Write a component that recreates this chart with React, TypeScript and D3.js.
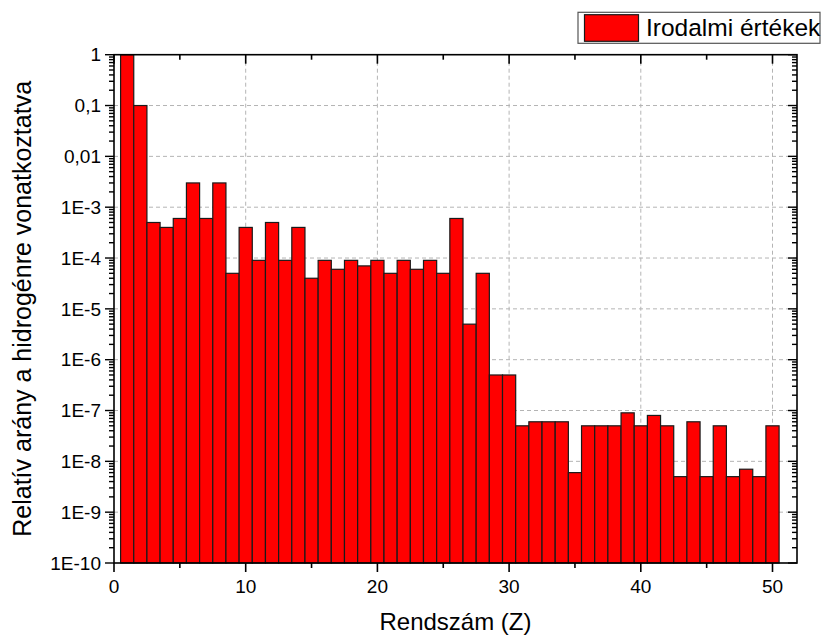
import React from "react";
import * as d3 from "d3";

// Rendszám (Z) and relative abundance (H = 1)
const atomicNumbers = [
  1, 2, 3, 4, 5, 6, 7, 8, 9, 10, 11, 12, 13, 14, 15, 16, 17, 18, 19, 20, 21, 22, 23, 24, 25,
  26, 27, 28, 29, 30, 31, 32, 33, 34, 35, 36, 37, 38, 39, 40, 41, 42, 43, 44, 45, 46, 47, 48, 49, 50,
];
const abundances = [
  1, 0.1, 5e-4, 4e-4, 6e-4, 3e-3, 6e-4, 3e-3, 5e-5, 4e-4, 9e-5, 5e-4, 9e-5, 4e-4, 4e-5, 9e-5, 6e-5,
  9e-5, 7e-5, 9e-5, 5e-5, 9e-5, 6e-5, 9e-5, 5e-5, 6e-4, 5e-6, 5e-5, 5e-7, 5e-7, 5e-8, 6e-8, 6e-8,
  6e-8, 6e-9, 5e-8, 5e-8, 5e-8, 9e-8, 5e-8, 8e-8, 5e-8, 5e-9, 6e-8, 5e-9, 5e-8, 5e-9, 7e-9, 5e-9, 5e-8,
];
const xTicks = [0, 10, 20, 30, 40, 50];
const xMinorTicks = [5, 15, 25, 35, 45];
const yTicks = [1, 0.1, 0.01, 1e-3, 1e-4, 1e-5, 1e-6, 1e-7, 1e-8, 1e-9, 1e-10];
const yTickLabels = ["1", "0,1", "0,01", "1E-3", "1E-4", "1E-5", "1E-6", "1E-7", "1E-8", "1E-9", "1E-10"];
const seriesName = "Irodalmi értékek";

const W = 821;
const H = 635;
const plot = { left: 114, right: 797, top: 54.7, bottom: 563 };
const font = "'Liberation Sans', Arial, sans-serif";

export default function App() {
  const x = d3.scaleLinear().domain([0, 51.86]).range([plot.left, plot.right]);
  const y = d3.scaleLog().domain([1e-10, 1]).range([plot.bottom, plot.top]);

  // minor log ticks 2..9 in each decade
  const yMinor: number[] = [];
  yTicks.slice(1).forEach((d) => {
    for (let k = 2; k <= 9; k++) yMinor.push(d * k);
  });

  const halfW = (x(1) - x(0)) / 2;

  return (
    <svg width={W} height={H} style={{ position: "absolute", left: 0, top: 0, background: "#fff" }}>
      {/* grid */}
      <g stroke="#b4b4b4" strokeWidth={1} strokeDasharray="4,3">
        {xTicks.slice(1).map((t) => (
          <line key={"gx" + t} x1={x(t)} x2={x(t)} y1={plot.top} y2={plot.bottom} />
        ))}
        {yTicks.slice(1, -1).map((t) => (
          <line key={"gy" + t} x1={plot.left} x2={plot.right} y1={y(t)} y2={y(t)} />
        ))}
      </g>

      {/* bars */}
      <g fill="#ff0000" stroke="#1a1a1a" strokeWidth={1.2}>
        {atomicNumbers.map((z, i) => (
          <rect
            key={z}
            x={x(z) - halfW}
            y={y(abundances[i])}
            width={halfW * 2}
            height={plot.bottom - y(abundances[i])}
          />
        ))}
      </g>

      {/* frame */}
      <rect
        x={plot.left}
        y={plot.top}
        width={plot.right - plot.left}
        height={plot.bottom - plot.top}
        fill="none"
        stroke="#000"
        strokeWidth={1.6}
      />

      {/* x ticks: bottom outward, top inward */}
      <g stroke="#000" strokeWidth={1.6}>
        {xTicks.map((t) => (
          <g key={"xt" + t}>
            <line x1={x(t)} x2={x(t)} y1={plot.bottom} y2={plot.bottom + 9} />
            <line x1={x(t)} x2={x(t)} y1={plot.top} y2={plot.top + 9} />
          </g>
        ))}
        {xMinorTicks.map((t) => (
          <g key={"xm" + t}>
            <line x1={x(t)} x2={x(t)} y1={plot.bottom} y2={plot.bottom + 5} />
            <line x1={x(t)} x2={x(t)} y1={plot.top} y2={plot.top + 5} />
          </g>
        ))}
      </g>

      {/* y ticks: left outward, right inward */}
      <g stroke="#000" strokeWidth={1.4}>
        {yTicks.map((t) => (
          <g key={"yt" + t}>
            <line x1={plot.left - 9} x2={plot.left} y1={y(t)} y2={y(t)} />
            <line x1={plot.right - 9} x2={plot.right} y1={y(t)} y2={y(t)} />
          </g>
        ))}
        {yMinor.map((t, i) => (
          <g key={"ym" + i}>
            <line x1={plot.left - 5} x2={plot.left} y1={y(t)} y2={y(t)} />
            <line x1={plot.right - 5} x2={plot.right} y1={y(t)} y2={y(t)} />
          </g>
        ))}
      </g>

      {/* tick labels */}
      <g fontFamily={font} fontSize={19} fill="#000">
        {xTicks.map((t) => (
          <text key={"xl" + t} x={x(t)} y={593} textAnchor="middle">
            {t}
          </text>
        ))}
        {yTicks.map((t, i) => (
          <text key={"yl" + t} x={101} y={y(t)} dy="0.35em" textAnchor="end">
            {yTickLabels[i]}
          </text>
        ))}
      </g>

      {/* axis titles */}
      <text
        x={(plot.left + plot.right) / 2}
        y={630}
        textAnchor="middle"
        fontFamily={font}
        fontSize={24}
        fill="#000"
      >
        Rendszám (Z)
      </text>
      <text
        transform={`translate(31,${(plot.top + plot.bottom) / 2}) rotate(-90)`}
        textAnchor="middle"
        fontFamily={font}
        fontSize={25}
        fill="#000"
      >
        Relatív arány a hidrogénre vonatkoztatva
      </text>

      {/* legend */}
      <g>
        <rect x={578} y={12.3} width={242} height={31} fill="#fff" stroke="#555" strokeWidth={1.2} />
        <rect x={584.5} y={14.7} width={54} height={26.6} fill="#ff0000" stroke="#1a1a1a" strokeWidth={1.2} />
        <text x={646} y={36} fontFamily={font} fontSize={24.5} fill="#000">
          {seriesName}
        </text>
      </g>
    </svg>
  );
}
